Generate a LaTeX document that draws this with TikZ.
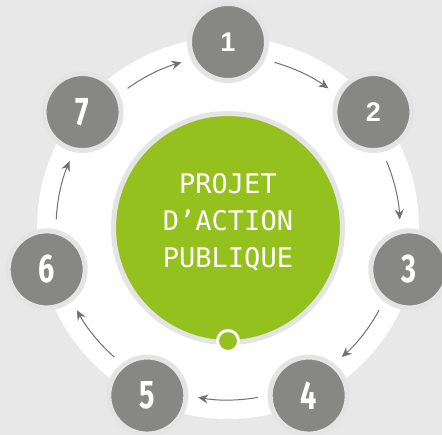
\documentclass[tikz,border=0pt]{standalone}
\usepackage{fontspec}
\usepackage{tikz}
\usetikzlibrary{arrows.meta}
\newfontfamily\monofont{DejaVu Sans Mono}
\newfontfamily\numfont[FakeStretch=0.72]{Fira Sans}
\newfontfamily\smallnumfont{Liberation Sans}
\definecolor{fond}{HTML}{E8E8E8}
\definecolor{anneau}{HTML}{E4E4E4}
\definecolor{etape}{HTML}{878786}
\definecolor{fleche}{HTML}{707070}
\definecolor{vert}{HTML}{95C11F}

\begin{document}
\begin{tikzpicture}[
		etapenum/.style={
			circle,
			fill=etape,
			draw=anneau,
			line width=5pt,
			minimum size=77pt,
			inner sep=0pt,
			text=white,
			font=\numfont\bfseries\fontsize{40}{40}\selectfont
			},
		petitnum/.style={
			font=\smallnumfont\bfseries\fontsize{27}{27}\selectfont
			},
		projet/.style={
			circle,
			fill=vert,
			draw=anneau,
			line width=5pt,
			minimum size=229pt,
			inner sep=0pt,
			text=white,
			align=center,
			font=\monofont\fontsize{27}{37}\selectfont
			},
		ancre/.style={
			circle,
			fill=vert,
			draw=white,
			line width=3pt,
			minimum size=21pt,
			inner sep=0pt
			},
		line/.style={
			draw=fleche,
			line width=1pt,
			-{Stealth[length=10pt,width=9pt,inset=3.5pt]}
			}]
	    % Background and ring
	    \clip (-228pt,-207pt) rectangle (214pt,228pt);
	    \fill[fond] (-228pt,-207pt) rectangle (214pt,228pt);
	    \fill[white] (0,0) circle[radius=191pt];

	    % Place nodes
	    \node [projet] (centre) at (0,0) {};
	    \node [text=white, align=center, font=\monofont\fontsize{27}{37}\selectfont] (titre) at (0,6pt) {PROJET\\D’ACTION\\PUBLIQUE};
	    \node [ancre] (point) at (-90:113pt) {};
	    \node [etapenum, petitnum] (e1) at (90:186pt) {1};
	    \node [etapenum, petitnum] (e2) at (38.57:186pt) {2};
	    \node [etapenum] (e3) at (-12.86:186pt) {3};
	    \node [etapenum] (e4) at (-64.29:186pt) {4};
	    \node [etapenum] (e5) at (-115.71:186pt) {5};
	    \node [etapenum] (e6) at (-167.14:186pt) {6};
	    \node [etapenum] (e7) at (141.43:186pt) {7};

	    % Arrow starts
	    \coordinate (d12) at (74.29:172pt);
	    \coordinate (d23) at (22.86:172pt);
	    \coordinate (d34) at (-28.57:172pt);
	    \coordinate (d45) at (-80:172pt);
	    \coordinate (d56) at (-131.43:172pt);
	    \coordinate (d67) at (177.14:172pt);
	    \coordinate (d71) at (125.71:172pt);

	    % Draw edges
	    \path [line] (d12) arc[start angle=74.29, end angle=54.29, radius=172pt];
	    \path [line] (d23) arc[start angle=22.86, end angle=2.86, radius=172pt];
	    \path [line] (d34) arc[start angle=-28.57, end angle=-48.57, radius=172pt];
	    \path [line] (d45) arc[start angle=-80, end angle=-100, radius=172pt];
	    \path [line] (d56) arc[start angle=-131.43, end angle=-151.43, radius=172pt];
	    \path [line] (d67) arc[start angle=177.14, end angle=157.14, radius=172pt];
	    \path [line] (d71) arc[start angle=125.71, end angle=105.71, radius=172pt];
	\end{tikzpicture}
\end{document}
